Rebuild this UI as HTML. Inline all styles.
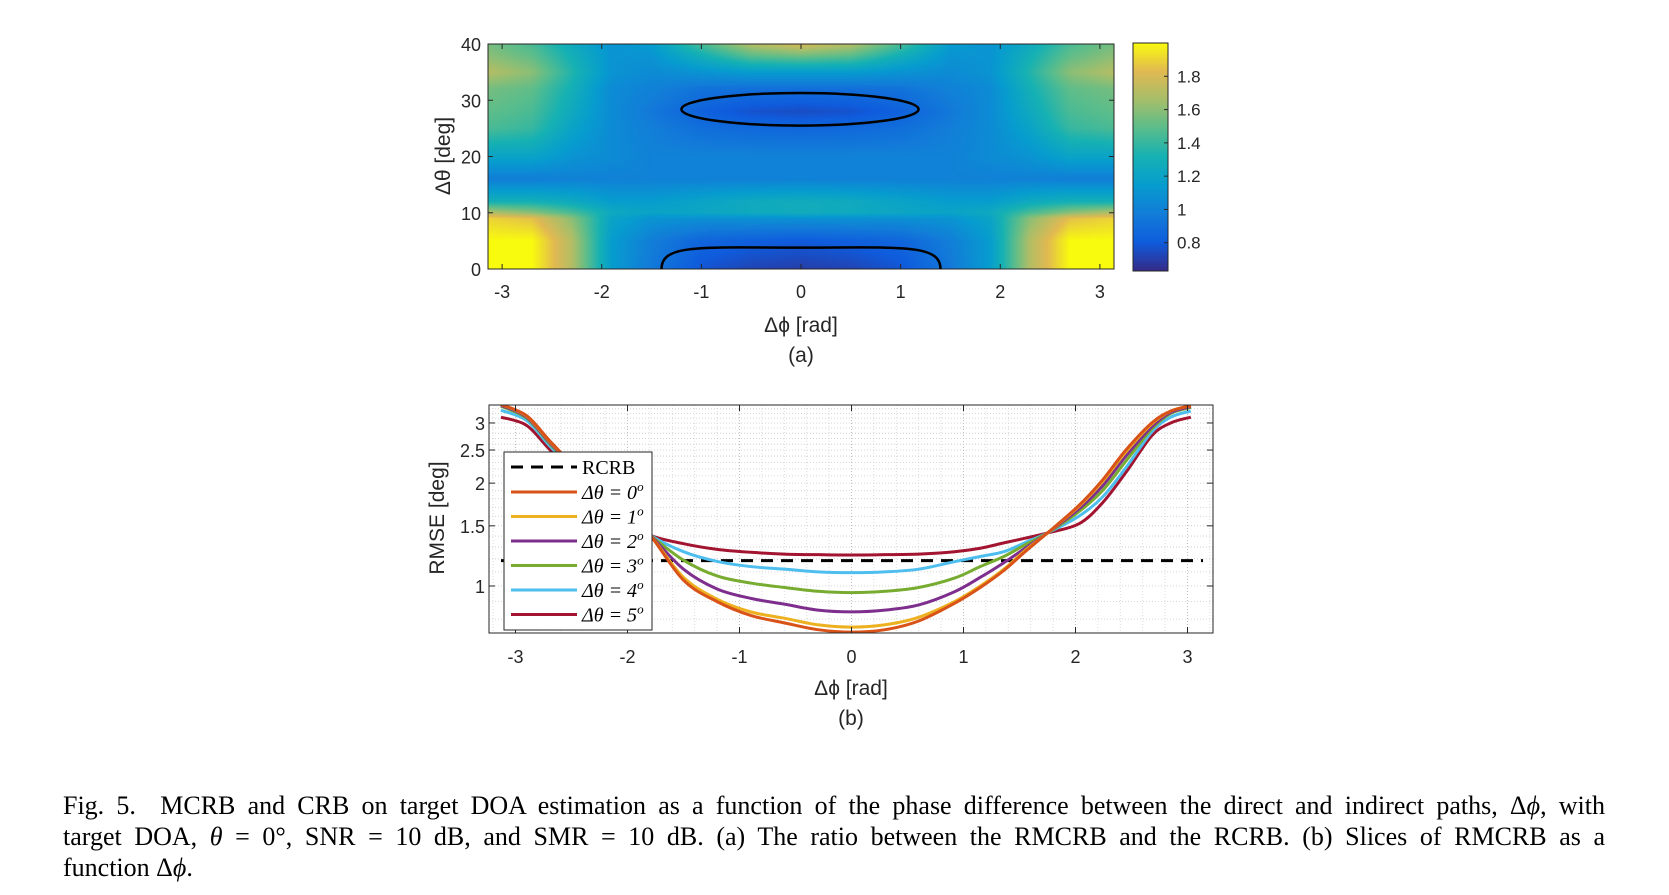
<!DOCTYPE html>
<html><head><meta charset="utf-8"><style>
html,body{margin:0;padding:0;background:#fff;}
body{width:1669px;height:895px;position:relative;overflow:hidden;font-family:"Liberation Sans",sans-serif;}
svg{position:absolute;left:0;top:0;}
#caption{position:absolute;left:63px;top:790px;width:1542px;font-family:"Liberation Serif",serif;font-size:26px;line-height:31px;color:#000;}
#caption .jl{display:block;text-align:justify;text-align-last:justify;}
#caption .ll{display:block;text-align:left;}
canvas{position:absolute;}
</style></head><body>
<canvas id="heat" width="626" height="225" style="left:488px;top:44px;"></canvas>
<canvas id="cbar" width="35" height="228" style="left:1133px;top:43px;"></canvas>
<svg id="svg" width="1669" height="895"></svg>
<div id="caption"><span class="jl">Fig. 5.&nbsp; MCRB and CRB on target DOA estimation as a function of the phase difference between the direct and indirect paths, Δ<i>ϕ</i>, with</span><span class="jl">target DOA, <i>θ</i> = 0°, SNR = 10 dB, and SMR = 10 dB. (a) The ratio between the RMCRB and the RCRB. (b) Slices of RMCRB as a</span><span class="ll">function Δ<i>ϕ</i>.</span></div>
<script>
// ---------- Heatmap data (a) ----------
const heatPhi = [-3.14,-2.7,-2.3,-1.9,-1.5,-1.0,-0.5,0,0.5,1.0,1.5,1.9,2.3,2.7,3.14];
const heatTheta = [0,5,9,10,12,16,20,25,28,32,35,38,40];
const heatHalf = [
 [2.0,2.0,1.7,1.15,0.95,0.78,0.72,0.7],
 [2.0,2.0,1.7,1.15,0.98,0.85,0.82,0.8],
 [1.9,1.85,1.6,1.2,1.1,1.08,1.08,1.08],
 [1.7,1.6,1.45,1.25,1.2,1.22,1.25,1.27],
 [1.3,1.3,1.25,1.15,1.15,1.2,1.25,1.27],
 [0.98,0.98,1.0,1.0,1.0,1.0,1.0,1.0],
 [1.2,1.2,1.1,1.05,1.0,1.0,1.0,1.0],
 [1.45,1.4,1.2,1.05,0.98,0.9,0.87,0.86],
 [1.5,1.45,1.25,1.05,0.95,0.83,0.77,0.75],
 [1.55,1.5,1.3,1.05,1.0,0.92,0.9,0.9],
 [1.7,1.6,1.35,1.1,1.05,1.1,1.15,1.15],
 [1.6,1.5,1.3,1.1,1.1,1.3,1.5,1.55],
 [1.55,1.45,1.25,1.1,1.15,1.45,1.7,1.8]
];
const cbarTicks = [0.8,1,1.2,1.4,1.6,1.8];
const heatXTicks = [-3,-2,-1,0,1,2,3];
const heatYTicks = [0,10,20,30,40];
const contourTop = [-1.2,1.18,25.5,31.3];
const contourBottom = [-1.4,1.4,3.8];

// ---------- Line data (b) ----------
const lineX = [-3.13,-2.9,-2.69,-2.45,-2.2,-2.0,-1.8,-1.5,-1.2,-0.9,-0.6,-0.3,0,0.3,0.6,0.92,1.15,1.36,1.55,1.75,2.03,2.24,2.45,2.68,2.85,3.03];
const rmse0 = [3.4,3.15,2.65,2.2,1.85,1.6,1.41,1.04,0.9,0.82,0.78,0.745,0.733,0.745,0.79,0.89,0.99,1.11,1.26,1.43,1.72,2.04,2.5,3.0,3.25,3.37];
const rmse1 = [3.4,3.14,2.64,2.2,1.85,1.6,1.41,1.06,0.915,0.84,0.805,0.77,0.758,0.77,0.81,0.9,1.0,1.12,1.27,1.43,1.71,2.02,2.47,2.98,3.25,3.37];
const rmse2 = [3.38,3.12,2.62,2.19,1.84,1.6,1.41,1.12,0.98,0.92,0.885,0.85,0.84,0.85,0.88,0.962,1.06,1.17,1.29,1.43,1.68,1.96,2.4,2.92,3.22,3.35];
const rmse3 = [3.36,3.1,2.6,2.17,1.83,1.59,1.41,1.19,1.07,1.02,0.99,0.965,0.956,0.965,0.99,1.055,1.14,1.22,1.32,1.43,1.65,1.9,2.32,2.88,3.2,3.33];
const rmse4 = [3.27,3.05,2.56,2.15,1.82,1.59,1.41,1.26,1.18,1.14,1.12,1.1,1.094,1.1,1.12,1.178,1.22,1.26,1.34,1.43,1.6,1.82,2.22,2.82,3.12,3.25];
const rmse5 = [3.12,2.95,2.5,2.12,1.8,1.58,1.41,1.33,1.28,1.255,1.24,1.235,1.232,1.235,1.24,1.26,1.29,1.337,1.38,1.43,1.52,1.75,2.15,2.75,3.0,3.12];
const rcrb = [1.186];
const seriesNames = ["Δθ = 0","Δθ = 1","Δθ = 2","Δθ = 3","Δθ = 4","Δθ = 5"];
const lineXTicks = [-3,-2,-1,0,1,2,3];
const lineYTicks = [1,1.5,2,2.5,3];
const lineYTickLabels = ["1","1.5","2","2.5","3"];

const NS="http://www.w3.org/2000/svg";
const svg=document.getElementById('svg');
function mk(tag,attrs,parent){const e=document.createElementNS(NS,tag);for(const k in attrs)e.setAttribute(k,attrs[k]);(parent||svg).appendChild(e);return e;}
function txt(s,attrs,parent){const e=mk('text',attrs,parent);e.textContent=s;return e;}

const par=[[53,42,135],[15,92,221],[18,125,216],[7,156,207],[21,177,180],[89,189,140],[165,190,107],[225,185,82],[249,251,14]];
const CMIN=0.63,CMAX=2.0;
function cmap(v){let t=(v-CMIN)/(CMAX-CMIN);t=Math.max(0,Math.min(1,t))*(par.length-1);const i=Math.min(par.length-2,Math.floor(t)),f=t-i;return par[i].map((c,k)=>Math.round(c+(par[i+1][k]-c)*f));}

const HX0=488,HX1=1114,HY0=44,HY1=269;
const hx=p=>HX0+(p+Math.PI)/(2*Math.PI)*(HX1-HX0);
const hy=t=>HY1-t/40*(HY1-HY0);
function heatVal(r,c){const n=heatHalf[0].length;return c<n?heatHalf[r][c]:heatHalf[r][2*(n-1)-c];}
function interpIdx(arr,v){for(let i=0;i<arr.length-1;i++){if(v<=arr[i+1])return [i,(v-arr[i])/(arr[i+1]-arr[i])];}return [arr.length-2,1];}
(function(){const cv=document.getElementById('heat'),ctx=cv.getContext('2d');const W=cv.width,H=cv.height;const img=ctx.createImageData(W,H);
for(let y=0;y<H;y++){const th=(H-0.5-y)/H*40;const [ri,rf]=interpIdx(heatTheta,th);
 for(let x=0;x<W;x++){const ph=-Math.PI+(x+0.5)/W*2*Math.PI;const [ci,cf]=interpIdx(heatPhi,ph);
  const v=(heatVal(ri,ci)*(1-cf)+heatVal(ri,ci+1)*cf)*(1-rf)+(heatVal(ri+1,ci)*(1-cf)+heatVal(ri+1,ci+1)*cf)*rf;
  const c=cmap(v);const o=(y*W+x)*4;img.data[o]=c[0];img.data[o+1]=c[1];img.data[o+2]=c[2];img.data[o+3]=255;}}
ctx.putImageData(img,0,0);
const cb=document.getElementById('cbar'),bx=cb.getContext('2d');for(let y=0;y<cb.height;y++){const v=CMAX-(y+0.5)/cb.height*(CMAX-CMIN);const c=cmap(v);bx.fillStyle=`rgb(${c})`;bx.fillRect(0,y,cb.width,1);} })();

const gA=mk('g',{});
mk('rect',{x:HX0,y:HY0,width:HX1-HX0,height:HY1-HY0,fill:'none',stroke:'#262626','stroke-width':1},gA);
const cTop=mk('ellipse',{cx:(hx(contourTop[0])+hx(contourTop[1]))/2,cy:(hy(contourTop[2])+hy(contourTop[3]))/2,rx:(hx(contourTop[1])-hx(contourTop[0]))/2,ry:(hy(contourTop[2])-hy(contourTop[3]))/2,fill:'none',stroke:'#000','stroke-width':2.5},gA);

{const a=hx(contourBottom[0]),b=hx(contourBottom[1]),t=hy(contourBottom[2]),yb=HY1;
const cB=mk('path',{d:`M${a},${yb} C${a},${t-4} ${a+40},${t} ${(a+b)/2},${t} C${b-40},${t} ${b},${t-4} ${b},${yb}`,fill:'none',stroke:'#000','stroke-width':2.5},gA);
}
heatXTicks.forEach(v=>{const x=hx(v);mk('line',{x1:x,x2:x,y1:HY1,y2:HY1-5,stroke:'#262626'},gA);mk('line',{x1:x,x2:x,y1:HY0,y2:HY0+5,stroke:'#262626'},gA);
 const t=txt(String(v),{x:x,y:HY1+29,'text-anchor':'middle','font-size':18,fill:'#262626'},gA);});
heatYTicks.forEach(v=>{const y=hy(v);mk('line',{x1:HX0,x2:HX0+5,y1:y,y2:y,stroke:'#262626'},gA);mk('line',{x1:HX1,x2:HX1-5,y1:y,y2:y,stroke:'#262626'},gA);
 const t=txt(String(v),{x:481,y:y+7,'text-anchor':'end','font-size':18,fill:'#262626'},gA);});
txt('Δϕ [rad]',{x:801,y:332,'text-anchor':'middle','font-size':21,fill:'#262626',},gA);
txt('(a)',{x:801,y:362,'text-anchor':'middle','font-size':21,fill:'#262626',},gA);
txt('Δθ [deg]',{x:0,y:0,transform:'translate(450,156) rotate(-90)','text-anchor':'middle','font-size':21,fill:'#262626',},gA);
mk('rect',{x:1133,y:43,width:35,height:228,fill:'none',stroke:'#262626','stroke-width':1},gA);
const cby=v=>271-(v-CMIN)/(CMAX-CMIN)*228;
cbarTicks.forEach(v=>{const y=cby(v);mk('line',{x1:1168,x2:1164,y1:y,y2:y,stroke:'#262626'},gA);
 const t=txt(String(v),{x:1177,y:y+6,'font-size':17,fill:'#262626'},gA);});

// ---------- Line chart (b) ----------
const LX0=489,LX1=1213,LY0=405,LY1=633;
const lx=v=>851.5+v*112;
const ly=v=>586-Math.log(v)*148.4;
const gB=mk('g',{});
mk('rect',{x:LX0,y:LY0,width:LX1-LX0,height:LY1-LY0,fill:'#fff'},gB);
const grid=mk('g',{stroke:'#c8c8c8','stroke-width':0.8,'stroke-dasharray':'1,2'},gB);
for(let i=-16;i<=16;i++){const v=i*0.2;const x=lx(v);if(x<=LX0||x>=LX1)continue;mk('line',{x1:x,x2:x,y1:LY0,y2:LY1,stroke:Math.abs(v-Math.round(v))<1e-6?'#b0b0b0':'#d4d4d4'},grid);}
for(let i=8;i<=33;i++){const v=i/10;const y=ly(v);if(y<=LY0||y>=LY1)continue;mk('line',{x1:LX0,x2:LX1,y1:y,y2:y},grid);}
const clip=mk('clipPath',{id:'clipb'});mk('rect',{x:LX0,y:LY0,width:LX1-LX0,height:LY1-LY0},clip);
const rl=mk('line',{x1:LX0+12,x2:LX1-10,y1:ly(rcrb[0]),y2:ly(rcrb[0]),stroke:'#000','stroke-width':3,'stroke-dasharray':'12,8'},gB);

const colors=['#D95319','#EDB120','#7E2F8E','#77AC30','#4DBEEE','#A2142F'];
const series=[rmse0,rmse1,rmse2,rmse3,rmse4,rmse5];
function smoothPath(xs,ys){const P=xs.map((x,i)=>[lx(x),ly(ys[i])]);let d=`M${P[0][0]},${P[0][1]}`;
 for(let i=0;i<P.length-1;i++){const p0=P[Math.max(0,i-1)],p1=P[i],p2=P[i+1],p3=P[Math.min(P.length-1,i+2)];
  d+=` C${p1[0]+(p2[0]-p0[0])/6},${p1[1]+(p2[1]-p0[1])/6} ${p2[0]-(p3[0]-p1[0])/6},${p2[1]-(p3[1]-p1[1])/6} ${p2[0]},${p2[1]}`;}return d;}
const gl=mk('g',{'clip-path':'url(#clipb)'},gB);
for(let s=series.length-1;s>=0;s--){const p=mk('path',{d:smoothPath(lineX,series[s]),fill:'none',stroke:colors[s],'stroke-width':3},gl);
 }
mk('rect',{x:LX0,y:LY0,width:LX1-LX0,height:LY1-LY0,fill:'none',stroke:'#262626','stroke-width':1},gB);
lineXTicks.forEach(v=>{const x=lx(v);mk('line',{x1:x,x2:x,y1:LY1,y2:LY1-6,stroke:'#262626'},gB);mk('line',{x1:x,x2:x,y1:LY0,y2:LY0+6,stroke:'#262626'},gB);
 const t=txt(String(v),{x:x,y:LY1+30,'text-anchor':'middle','font-size':18,fill:'#262626'},gB);});
lineYTicks.forEach((v,i)=>{const y=ly(v);mk('line',{x1:LX0,x2:LX0+6,y1:y,y2:y,stroke:'#262626'},gB);mk('line',{x1:LX1,x2:LX1-6,y1:y,y2:y,stroke:'#262626'},gB);
 const t=txt(lineYTickLabels[i],{x:485,y:y+7,'text-anchor':'end','font-size':18,fill:'#262626'},gB);});
txt('Δϕ [rad]',{x:851,y:695,'text-anchor':'middle','font-size':21,fill:'#262626',},gB);
txt('(b)',{x:851,y:725,'text-anchor':'middle','font-size':21,fill:'#262626',},gB);
txt('RMSE [deg]',{x:0,y:0,transform:'translate(444,518) rotate(-90)','text-anchor':'middle','font-size':21,fill:'#262626',},gB);
const lg=mk('g',{},gB);
mk('rect',{x:504,y:452,width:148,height:178,fill:'#fff',stroke:'#262626','stroke-width':1},lg);
mk('line',{x1:511,x2:577,y1:467,y2:467,stroke:'#000','stroke-width':3,'stroke-dasharray':'12,8'},lg);
txt('RCRB',{x:582,y:474,'font-family':'Liberation Serif, serif','font-size':20,fill:'#000',},lg);
seriesNames.forEach((n,i)=>{const y=492+i*24.5;
 const l=mk('line',{x1:511,x2:577,y1:y,y2:y,stroke:colors[i],'stroke-width':3},lg);
 
 const t=mk('text',{x:582,y:y+7,'font-family':'Liberation Serif, serif','font-size':20,fill:'#000','font-style':'italic'},lg);
 
 t.textContent=n;const sp=mk('tspan',{dy:-8,'font-size':13},t);sp.textContent='o';});
</script>
</body></html>
